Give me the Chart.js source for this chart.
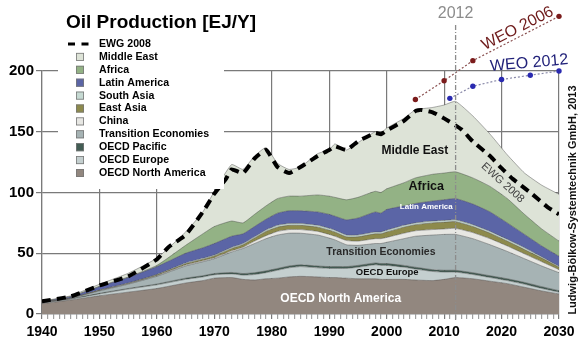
<!DOCTYPE html>
<html><head><meta charset="utf-8">
<script src="https://cdn.jsdelivr.net/npm/chart.js@4/dist/chart.umd.min.js"></script>
<style>html,body{margin:0;padding:0;background:#fff}#wrap{width:583px;height:341px;position:relative}</style>
</head><body><div id="wrap"><canvas id="c" width="583" height="341"></canvas></div>
<script>
// ---------- DATA ----------
const years = [1940,1945,1950,1955,1960,1965,1968,1970,1973,1975,1977,1979,1981,1983,1985,1988,1990,1991,1993,1995,1998,1999,2000,2003,2005,2008,2010,2012,2015,2018,2021,2024,2027,2030];
const oecdNorthAmerica = [8.5,11.5,15,18,21,25.5,27.5,29.5,30,28.5,28,29,29.5,30.5,31,30.5,30,30,29.5,29,29,28.5,28.5,28.5,28,27.5,28.5,30,29,27,25,22,19,16.5];
const oecdEurope = [0.5,0.7,1.5,2.5,3.0,3.0,3.0,2.8,3.0,3.5,4.5,5,6.5,7.5,8,7.5,7.5,7.5,8,9.5,11.5,11.5,11.5,10,9,7.5,6,4.5,3.5,3,2.5,2.5,2,1.5];
const oecdPacific = [0.1,0.2,0.5,0.5,0.7,1.0,1.0,1.0,1.2,1.3,1.5,1.5,1.5,1.5,1.5,1.5,1.5,1.5,1.5,1.5,1.5,1.5,1.5,1.5,1.5,1.5,1.5,1.5,1.5,1.5,1.5,1.5,1.5,1.2];
const transitionEconomies = [0.4,0.5,2.0,3.5,6.3,10.0,11.5,12.2,16.8,20.7,24,26.5,27.5,27,26,25.5,23.5,22,18,16.5,16,16.5,17.5,22,25.5,28.5,29.5,29.5,28,25.5,22.5,19.5,17,14.8];
const china = [0,0.1,0.2,0.3,0.5,0.8,0.8,0.8,1.0,1.0,2.0,2.5,3.0,3.0,3,3,3,3,3.5,3.5,4,4,4,4.5,4.5,4.5,4.5,5,5,5,4.5,4,3.5,2.5];
const eastAsia = [0.1,0.1,0.3,0.4,0.7,1.0,1.2,1.5,1.8,2.0,2.5,3.5,3.5,3.5,3.5,3.5,3.5,3.5,3,3.5,4,4,4.5,5,5,5.5,5.5,5.5,5,4.5,4,3.5,3,2];
const southAsia = [0,0.1,0.2,0.3,0.4,0.7,0.8,0.8,1.0,1.0,1.0,1.2,1.5,1.5,1.5,1.5,1.5,1.5,1.5,1.5,1.5,1.5,1.5,1.5,1.5,1.5,1.5,1.5,1.5,1.5,1.5,1.5,1,0.8];
const latinAmerica = [0.6,1.1,2.8,4.5,6.4,8.0,8.7,9.4,9.2,8.0,8.5,8.8,10,10.5,10.5,11,11.5,11.5,12.5,14,16.5,15.5,17,16,16,16.5,17,17.5,17,16,13.5,11,9,8.2];
const africa = [0.1,0.1,0.3,0.5,1.0,6.5,11.5,14,12.5,9.0,10,11,12,12,12,14,15,15.5,16.5,17,17,17,17,19,21,22,22,22,21.5,21,20,16.5,14,12.5];
const middleEast = [0.3,0.6,1.7,3.0,6.0,11.0,18,29,46.5,44,48,48,29,22,24,34,38,44,41,45,49,49,50,53,56,55,56,58,51,43,36,34,36,38.5];

const ewgYears = [1940,1945,1950,1955,1960,1962,1965,1968,1970,1972,1973,1975,1977,1979,1981,1983,1985,1988,1990,1991,1993,1995,1998,1999,2000,2003,2005,2006,2008,2010,2013,2015,2018,2020,2022,2025,2028,2030];
const ewgValues = [10.5,14.5,23.5,31,45,55,65,84,99,111,119,116,128,135,121,116,121,130,135,138,135,142,149,148,151,159,167,168,166,161,152,142,130,120,111,100,88,82];

const weo2006Years = [2005,2010,2015,2030];
const weo2006Values = [176.5,192,208.5,245];
const weo2012Years = [2011,2015,2020,2025,2030];
const weo2012Values = [177.5,187.5,193,196.5,200];

const markerYear = 2012;
const markerSpan = [-5, 238];

const xRange = [1940, 2030];
const yTicks = [0, 50, 100, 150, 200];

// ---------- STYLE ----------
const FF = '"Liberation Sans", Arial, Helvetica, sans-serif';
const gridColor = '#7a7a7a';
const areaSeries = [
  {label:'OECD North America', data:oecdNorthAmerica, color:'#92877f'},
  {label:'OECD Europe', data:oecdEurope, color:'#c4cfcf'},
  {label:'OECD Pacific', data:oecdPacific, color:'#435d54'},
  {label:'Transition Economies', data:transitionEconomies, color:'#a6b3b4'},
  {label:'China', data:china, color:'#e7e7e3'},
  {label:'East Asia', data:eastAsia, color:'#8d8a4c'},
  {label:'South Asia', data:southAsia, color:'#c5d9d2'},
  {label:'Latin America', data:latinAmerica, color:'#5b65a6'},
  {label:'Africa', data:africa, color:'#93b285'},
  {label:'Middle East', data:middleEast, color:'#dde3d7'}
];

const toPts = (xs, vs) => xs.map((x, i) => ({x, y: vs[i]}));

const datasets = areaSeries.map((s, i) => ({
  type:'line', label:s.label, data: toPts(years, s.data),
  backgroundColor:s.color, borderColor:'rgba(70,70,70,0.55)', borderWidth:0.8,
  fill: i === 0 ? 'origin' : '-1', pointRadius:0, tension:0.15, stack:'regions'
}));
datasets.push({type:'line', label:'EWG 2008', data: toPts(ewgYears, ewgValues), borderColor:'#000', borderWidth:4,
  borderDash:[9,6], fill:false, pointRadius:0, tension:0.15, stack:'ewg', order:-1});
datasets.push({type:'line', label:'WEO 2006', data: toPts(weo2006Years, weo2006Values), borderColor:'#8a5050', borderWidth:1.2,
  borderDash:[2,2], fill:false, pointRadius:0, markerColor:'#7b1c1c', stack:'weo06', order:-1, clip:false});
datasets.push({type:'line', label:'WEO 2012', data: toPts(weo2012Years, weo2012Values), borderColor:'#8888a8', borderWidth:1.2,
  borderDash:[2,2], fill:false, pointRadius:0, markerColor:'#2a2ab0', stack:'weo12', order:-1, clip:false});
datasets.push({type:'line', label:'2012', data: markerSpan.map(v => ({x:markerYear, y:v})), borderColor:'#8c8c8c', borderWidth:1.3,
  borderDash:[5,2,1,2], fill:false, pointRadius:0, stack:'mark', order:-2, clip:false});

const areaLabels = [
  {text:'Middle East', year:2004.9, value:134.5, font:`bold 12px ${FF}`, color:'#111', angle:0},
  {text:'Africa', year:2006.9, value:104.8, font:`bold 12.5px ${FF}`, color:'#111', angle:0},
  {text:'Latin America', year:2006.9, value:88, font:`bold 8px ${FF}`, color:'#fff', angle:0},
  {text:'Transition Economies', year:1999, value:51.2, font:`bold 10.5px ${FF}`, color:'#2a2a2a', angle:0},
  {text:'OECD Europe', year:2000.1, value:34.2, font:`bold 9.5px ${FF}`, color:'#111', angle:0},
  {text:'OECD North America', year:1992, value:12.8, font:`bold 12px ${FF}`, color:'#fff', angle:0},
  {text:'EWG 2008', year:2020.2, value:108, font:`11px ${FF}`, color:'#444', angle:42},
  {text:'WEO 2006', year:2022.8, value:235, font:`16px ${FF}`, color:'#6e1a1a', angle:-27},
  {text:'WEO 2012', year:2024.8, value:206.5, font:`16px ${FF}`, color:'#22227a', angle:-5},
  {text:'2012', year:2012, value:247.5, font:`16px ${FF}`, color:'#8c8c8c', angle:0}
];
const titleText = 'Oil Production [EJ/Y]';
const creditText = 'Ludwig-Bölkow-Systemtechnik GmbH, 2013';

const decor = {
  id:'decor',
  afterDraw(chart){
    const ctx = chart.ctx, xs = chart.scales.x, ys = chart.scales.y, ca = chart.chartArea;
    ctx.save();
    // WEO markers at the library-computed point positions
    chart.data.datasets.forEach((d, i) => {
      if (!d.markerColor) return;
      chart.getDatasetMeta(i).data.forEach(p => {
        ctx.beginPath(); ctx.arc(p.x, p.y, 2.7, 0, Math.PI * 2);
        ctx.fillStyle = d.markerColor; ctx.fill();
      });
    });
    // title
    ctx.font = `bold 19px ${FF}`; ctx.fillStyle = '#000'; ctx.textAlign = 'left'; ctx.textBaseline = 'alphabetic';
    ctx.fillText(titleText, 66, 28);
    // labels in plot
    for (const l of areaLabels) {
      ctx.save();
      ctx.translate(xs.getPixelForValue(l.year), ys.getPixelForValue(l.value));
      ctx.rotate(l.angle * Math.PI / 180);
      ctx.font = l.font; ctx.fillStyle = l.color; ctx.textAlign = 'center'; ctx.textBaseline = 'middle';
      ctx.fillText(l.text, 0, 0);
      ctx.restore();
    }
    // credit
    ctx.save();
    ctx.translate(ca.right + 14, ca.bottom - 114);
    ctx.rotate(-Math.PI / 2);
    ctx.font = `bold 11px ${FF}`; ctx.fillStyle = '#111'; ctx.textAlign = 'center'; ctx.textBaseline = 'middle';
    ctx.fillText(creditText, 0, 0);
    ctx.restore();
    // legend
    const L = {left:58, top:36, right:224, bottom:189, row:12.9, y0:44, boxX:76, textX:99};
    ctx.fillStyle = '#fff';
    ctx.fillRect(L.left, L.top, L.right - L.left, L.bottom - L.top);
    ctx.font = `bold 10.6px ${FF}`; ctx.textAlign = 'left'; ctx.textBaseline = 'middle';
    const ewg = chart.data.datasets.find(d => d.stack === 'ewg');
    ctx.strokeStyle = '#000'; ctx.lineWidth = 3.2; ctx.setLineDash([]);
    ctx.beginPath(); ctx.moveTo(68, L.y0); ctx.lineTo(75, L.y0); ctx.moveTo(81.5, L.y0); ctx.lineTo(88.5, L.y0); ctx.stroke();
    ctx.fillStyle = '#000'; ctx.fillText(ewg.label, L.textX, L.y0);
    const areas = chart.data.datasets.filter(d => d.stack === 'regions').slice().reverse();
    areas.forEach((d, i) => {
      const y = L.y0 + L.row * (i + 1);
      ctx.fillStyle = d.backgroundColor; ctx.fillRect(L.boxX, y - 4, 8, 8);
      ctx.strokeStyle = '#777'; ctx.lineWidth = 0.8; ctx.strokeRect(L.boxX + 0.4, y - 3.6, 7.2, 7.2);
      ctx.fillStyle = '#000'; ctx.fillText(d.label, L.textX, y);
    });
    ctx.restore();
  }
};

new Chart(document.getElementById('c'), {
  data: {datasets},
  options: {
    responsive:false, animation:false, events:[],
    layout:{padding:{top:71, right:24, left:0, bottom:0}},
    plugins:{legend:{display:false}, tooltip:{enabled:false}, title:{display:false}},
    scales:{
      x:{type:'linear', min:xRange[0], max:xRange[1], z:1,
        ticks:{stepSize:1, autoSkip:false, maxRotation:0, minRotation:0, maxTicksLimit:200,
          callback:v => (v % 10 === 0 ? String(v) : ''), color:'#000', padding:5,
          font:{family:FF, size:14, weight:'bold'}},
        grid:{color:c => (c.tick && c.tick.value % 10 === 0) ? gridColor : 'rgba(0,0,0,0)',
          tickColor:c => (c.tick && c.tick.value % 10 === 0) ? gridColor : '#a0a0a0',
          lineWidth:1.2, tickLength:5},
        border:{display:true, color:gridColor, width:1.2},
        afterFit:s => { s.height = 27; }
      },
      y:{type:'linear', min:0, max:200, stacked:true, z:1,
        afterBuildTicks:s => { s.ticks = yTicks.map(v => ({value:v})); },
        ticks:{color:'#000', padding:2, font:{family:FF, size:15, weight:'bold'}},
        grid:{color:gridColor, lineWidth:1.2, tickLength:6},
        border:{display:true, color:gridColor, width:1.2},
        afterFit:s => { s.width = 42; }
      }
    }
  },
  plugins:[decor]
});
</script>
</body></html>
